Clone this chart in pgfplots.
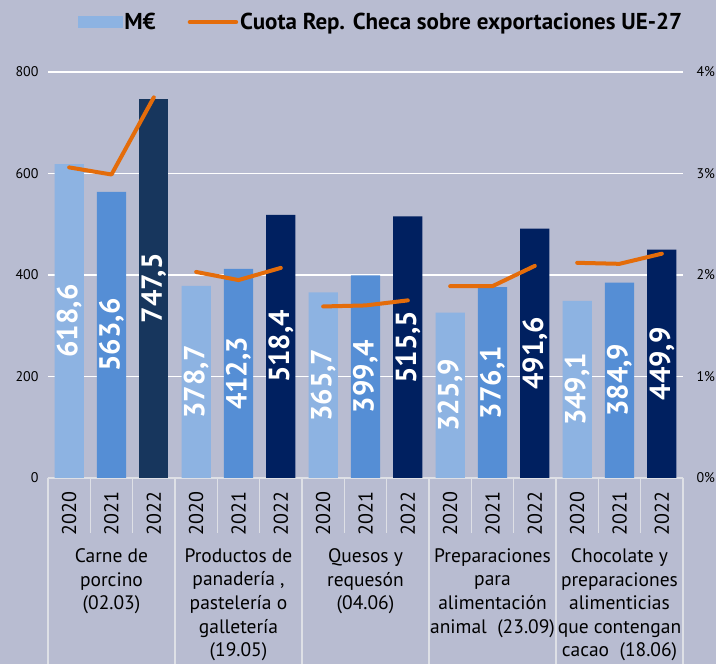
\documentclass[border=0pt]{standalone}
\usepackage{pgfplots}
\pgfplotsset{compat=1.18}
\usepackage{fontspec}
\setmainfont{PT Sans}
\definecolor{bg}{RGB}{184,188,209}
\definecolor{cA}{RGB}{141,179,226}
\definecolor{cB}{RGB}{85,142,213}
\definecolor{cC}{RGB}{23,54,93}
\definecolor{cD}{RGB}{0,32,96}
\definecolor{cO}{RGB}{228,108,10}
\definecolor{gridgray}{RGB}{222,224,230}
\pgfplotsset{/pgf/number format/assume math mode=true}
\begin{document}
\begin{tikzpicture}[x=1pt,y=1pt]
\fill[bg] (0,0) rectangle (716,664);
\path[use as bounding box] (0,0) rectangle (716,664);
\begin{axis}[
 at={(48pt,186pt)}, anchor=south west,
 width=635pt, height=406pt, scale only axis,
 xmin=-0.5, xmax=14.5, ymin=0, ymax=800,
 ytick={0,200,...,800},
 xtick={0,...,14},
 xticklabels={2020,2021,2022,2020,2021,2022,2020,2021,2022,2020,2021,2022,2020,2021,2022},
 xticklabel style={rotate=90, anchor=east, font=\fontsize{20}{20}\selectfont},
 xticklabel shift=10pt,
 minor xtick={0.5,1.5,3.5,4.5,6.5,7.5,9.5,10.5,12.5,13.5},
 extra x ticks={-0.5,2.5,5.5,8.5,11.5,14.5},
 extra x tick labels={},
 extra x tick style={major tick length=186pt},
 major tick length=0pt, minor tick length=55pt,
 tick align=outside,
 tick style={gridgray, line width=1.5pt},
 ymajorgrids, grid style={white, line width=1.3pt},
 axis x line*=bottom, axis y line*=left,
 x axis line style={draw=gridgray, line width=1.5pt, -},
 y axis line style={draw=none},
 yticklabel style={font=\fontsize{14}{14}\selectfont},
 yticklabel shift=6pt,
 ybar, bar width=0.69, bar shift=0pt,
 clip=false,
 nodes near coords={\pgfmathprintnumber[fixed,fixed zerofill,precision=1,use comma,assume math mode=true]{\pgfplotspointmeta}},
 visualization depends on={y \as \rawy},
 every node near coord/.append style={shift={(axis direction cs:0,-\rawy/2)}, rotate=90, anchor=center, text=white, font=\bfseries\fontsize{29}{29}\selectfont},
]
\addplot[fill=cA, draw=none] coordinates {(0,618.6) (3,378.7) (6,365.7) (9,325.9) (12,349.1)};
\addplot[fill=cB, draw=none] coordinates {(1,563.6) (4,412.3) (7,399.4) (10,376.1) (13,384.9)};
\addplot[fill=cC, draw=none] coordinates {(2,747.5)};
\addplot[fill=cD, draw=none] coordinates {(5,518.4) (8,515.5) (11,491.6) (14,449.9)};
\begin{scope}[every node/.style={anchor=north, align=center, font=\fontsize{19.5}{23.6}\selectfont, text=black}]
\node at (axis cs:1,0) [yshift=-67pt] {Carne de\\porcino\\(02.03)};
\node at (axis cs:4,0) [yshift=-67pt] {Productos de\\panadería ,\\pastelería o\\galletería\\(19.05)};
\node at (axis cs:7,0) [yshift=-67pt] {Quesos y\\requesón\\(04.06)};
\node at (axis cs:10,0) [yshift=-67pt] {Preparaciones\\para\\alimentación\\animal~~(23.09)};
\node at (axis cs:13,0) [yshift=-67pt] {Chocolate y\\preparaciones\\alimenticias\\que contengan\\cacao~~(18.06)};
\end{scope}
\end{axis}
\begin{axis}[
 at={(48pt,186pt)}, anchor=south west,
 width=635pt, height=406pt, scale only axis,
 xmin=-0.5, xmax=14.5, ymin=0, ymax=4,
 axis x line=none, axis y line*=right,
 y axis line style={draw=none},
 ytick={0,1,2,3,4}, yticklabels={0\%,1\%,2\%,3\%,4\%},
 major tick length=0pt,
 yticklabel style={font=\fontsize{14}{14}\selectfont, anchor=west},
 yticklabel shift=10pt,
 clip=false,
 legend columns=2,
 legend style={draw=none, fill=none, at={(0.042,1.123)}, anchor=west,
   font=\bfseries\fontsize{23}{23}\selectfont,
   /tikz/every even column/.append style={column sep=30pt}},
]
\addlegendimage{legend image code/.code={\fill[cA] (0pt,-5.5pt) rectangle (44pt,5.5pt);}}
\addlegendentry{M€}
\addplot[cO, line width=4pt, line cap=round, line join=round,
  legend image code/.code={\draw[cO, line width=4.5pt, line cap=round] (0pt,0pt) -- (46pt,0pt);}]
  coordinates {(0,3.06) (1,2.99) (2,3.75)};
\addlegendentry{Cuota Rep. Checa sobre exportaciones UE-27}
\addplot[cO, line width=4pt, line cap=round, line join=round, forget plot] coordinates {(3,2.03) (4,1.95) (5,2.07)};
\addplot[cO, line width=4pt, line cap=round, line join=round, forget plot] coordinates {(6,1.69) (7,1.70) (8,1.75)};
\addplot[cO, line width=4pt, line cap=round, line join=round, forget plot] coordinates {(9,1.89) (10,1.89) (11,2.09)};
\addplot[cO, line width=4pt, line cap=round, line join=round, forget plot] coordinates {(12,2.12) (13,2.11) (14,2.21)};
\end{axis}
\end{tikzpicture}
\end{document}
